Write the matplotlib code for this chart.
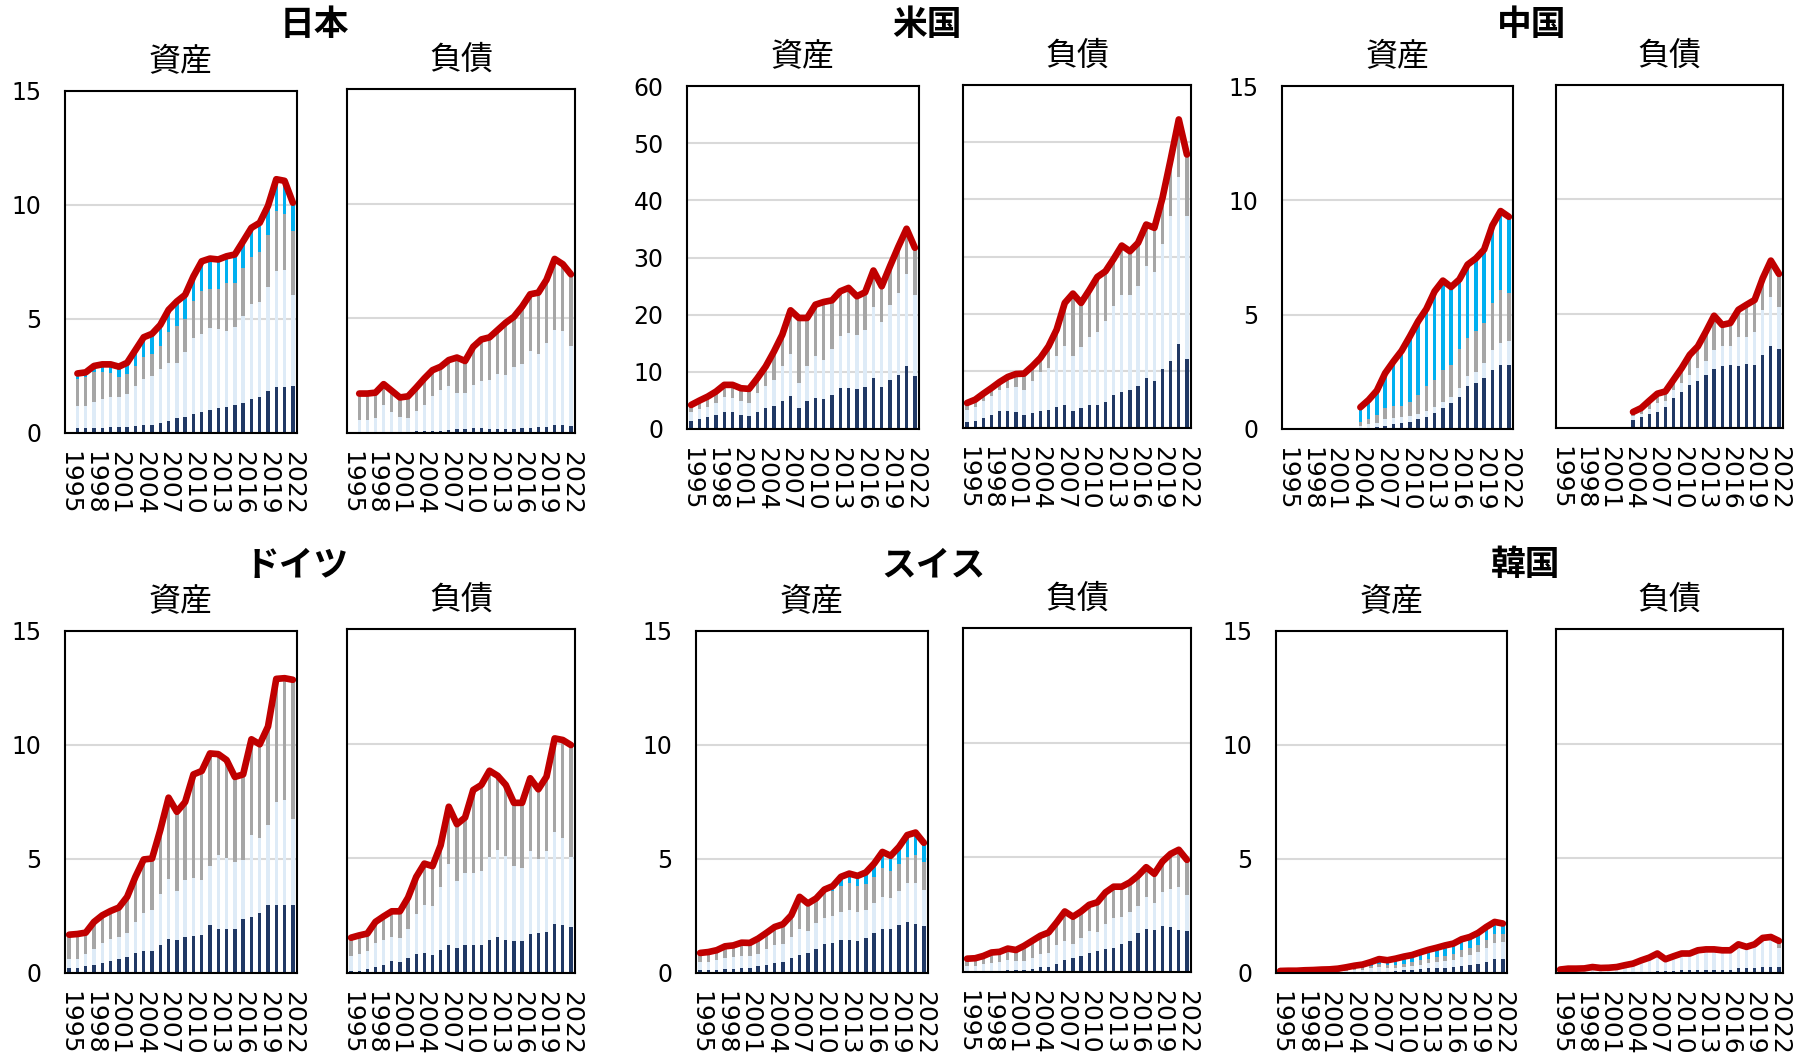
import numpy as np
import matplotlib
matplotlib.use("Agg")
import matplotlib.pyplot as plt

plt.rcParams["font.family"] = ["DejaVu Sans", "Noto Sans CJK JP"]

# ---------------------------------------------------------------- data
years = list(range(1995, 2023))
tick_years = years[::3]

countries = ["日本", "米国", "中国", "ドイツ", "スイス", "韓国"]
side_labels = ["資産", "負債"]
y_limits = {"日本": 15, "米国": 60, "中国": 15, "ドイツ": 15, "スイス": 15, "韓国": 15}
y_steps = {"日本": 5, "米国": 10, "中国": 5, "ドイツ": 5, "スイス": 5, "韓国": 5}

# Japan (from 1996)
jp_a_direct = [0.22, 0.23, 0.23, 0.21, 0.25, 0.26, 0.25, 0.29, 0.34, 0.34, 0.44, 0.53, 0.66, 0.70, 0.82, 0.93, 1.03, 1.10, 1.15, 1.22, 1.32, 1.51, 1.59, 1.84, 2.00, 2.03, 2.06]
jp_a_portfolio = [0.97, 0.96, 1.14, 1.30, 1.34, 1.33, 1.44, 1.77, 2.02, 2.16, 2.35, 2.52, 2.39, 2.87, 3.34, 3.42, 3.57, 3.45, 3.34, 3.45, 3.82, 4.15, 4.14, 4.56, 5.09, 5.11, 4.00]
jp_a_other = [1.20, 1.25, 1.32, 1.18, 1.02, 0.88, 0.90, 0.88, 0.99, 0.95, 1.03, 1.36, 1.65, 1.42, 1.65, 1.86, 1.73, 1.76, 2.09, 1.91, 2.08, 2.07, 2.20, 2.28, 2.65, 2.45, 2.79]
jp_a_reserves = [0.22, 0.22, 0.25, 0.32, 0.40, 0.44, 0.49, 0.70, 0.85, 0.90, 0.92, 0.99, 1.07, 1.07, 1.06, 1.32, 1.32, 1.30, 1.17, 1.25, 1.19, 1.27, 1.29, 1.28, 1.39, 1.47, 1.25]
jp_l_direct = [0.03, 0.03, 0.03, 0.03, 0.03, 0.03, 0.06, 0.07, 0.09, 0.09, 0.10, 0.15, 0.17, 0.17, 0.20, 0.20, 0.19, 0.17, 0.17, 0.19, 0.20, 0.23, 0.25, 0.28, 0.35, 0.34, 0.31]
jp_l_portfolio = [0.55, 0.55, 0.64, 1.18, 0.89, 0.67, 0.61, 0.88, 1.15, 1.53, 1.77, 1.91, 1.58, 1.58, 1.89, 2.07, 2.11, 2.40, 2.38, 2.67, 2.81, 3.36, 3.19, 3.66, 4.14, 4.12, 3.49]
jp_l_other = [1.14, 1.14, 1.09, 0.92, 0.92, 0.85, 0.93, 1.03, 1.14, 1.12, 1.02, 1.12, 1.54, 1.39, 1.67, 1.81, 1.87, 1.92, 2.26, 2.21, 2.50, 2.46, 2.68, 2.74, 3.10, 2.90, 3.12]

# United States
us_a_direct = [1.46, 1.75, 2.05, 2.46, 3.04, 2.92, 2.46, 2.28, 3.04, 3.74, 4.04, 4.91, 5.79, 3.74, 4.91, 5.50, 5.26, 5.96, 7.13, 7.25, 7.02, 7.43, 8.89, 7.43, 8.60, 9.36, 10.94, 9.30]
us_a_portfolio = [1.58, 1.70, 1.87, 2.16, 2.63, 2.58, 2.45, 2.22, 3.22, 3.80, 4.56, 6.03, 7.37, 4.27, 6.14, 7.19, 6.85, 8.02, 9.07, 9.53, 9.47, 9.94, 12.46, 11.28, 13.15, 14.44, 16.25, 14.09]
us_a_other = [1.17, 1.52, 1.75, 1.93, 2.05, 2.22, 2.22, 2.52, 2.63, 3.40, 4.97, 5.55, 7.60, 11.41, 8.37, 9.06, 10.11, 8.53, 7.89, 7.90, 6.73, 6.55, 6.37, 6.26, 6.73, 8.07, 7.64, 8.11]
us_a_reserves = [0, 0, 0, 0, 0, 0, 0, 0, 0, 0, 0, 0, 0, 0, 0, 0, 0, 0, 0, 0, 0, 0, 0, 0, 0, 0, 0.2, 0.2]
us_l_direct = [1.05, 1.28, 1.75, 2.22, 2.92, 2.92, 2.74, 2.22, 2.63, 3.03, 3.21, 3.68, 4.08, 3.03, 3.50, 3.97, 4.08, 4.55, 5.72, 6.30, 6.71, 7.41, 8.75, 8.28, 10.33, 11.79, 14.76, 12.14]
us_l_portfolio = [2.04, 2.40, 2.92, 3.44, 3.79, 4.08, 4.38, 4.49, 5.65, 6.71, 7.29, 8.86, 10.33, 9.51, 10.62, 11.96, 12.72, 14.12, 15.69, 17.04, 16.63, 17.50, 19.55, 18.97, 21.93, 25.37, 29.11, 24.91]
us_l_other = [1.29, 1.28, 1.34, 1.34, 1.34, 1.93, 2.33, 2.80, 2.51, 2.51, 3.79, 4.67, 7.47, 10.97, 7.76, 8.16, 9.63, 8.75, 8.17, 8.57, 7.58, 7.47, 7.29, 7.76, 8.00, 9.81, 10.10, 10.79]

# China (from 2004)
cn_a_direct = [0.03, 0.06, 0.07, 0.13, 0.20, 0.28, 0.32, 0.44, 0.54, 0.69, 0.94, 1.15, 1.42, 1.86, 2.00, 2.22, 2.59, 2.78, 2.78]
cn_a_portfolio = [0.10, 0.14, 0.21, 0.29, 0.27, 0.26, 0.25, 0.22, 0.25, 0.26, 0.26, 0.27, 0.36, 0.46, 0.51, 0.66, 0.87, 0.98, 1.05]
cn_a_other = [0.19, 0.22, 0.33, 0.49, 0.54, 0.47, 0.63, 0.83, 1.07, 1.20, 1.39, 1.39, 1.71, 1.66, 1.76, 1.75, 2.05, 2.34, 2.12]
cn_a_reserves = [0.63, 0.85, 1.07, 1.53, 1.94, 2.41, 2.85, 3.22, 3.39, 3.87, 3.90, 3.40, 3.05, 3.21, 3.19, 3.22, 3.39, 3.43, 3.33]
cn_l_direct = [0.36, 0.47, 0.61, 0.68, 0.90, 1.31, 1.56, 1.89, 2.07, 2.33, 2.59, 2.69, 2.74, 2.72, 2.81, 2.77, 3.20, 3.60, 3.46]
cn_l_portfolio = [0.15, 0.14, 0.22, 0.41, 0.29, 0.36, 0.41, 0.44, 0.55, 0.58, 0.83, 0.88, 0.86, 1.28, 1.19, 1.45, 1.97, 2.15, 1.81]
cn_l_other = [0.19, 0.26, 0.36, 0.41, 0.41, 0.44, 0.65, 0.87, 0.95, 1.31, 1.49, 0.94, 0.99, 1.17, 1.39, 1.38, 1.38, 1.57, 1.47]

# Germany
de_a_direct = [0.22, 0.23, 0.29, 0.37, 0.44, 0.53, 0.60, 0.70, 0.88, 0.95, 0.95, 1.22, 1.51, 1.43, 1.58, 1.61, 1.68, 2.09, 1.95, 1.92, 1.95, 2.36, 2.46, 2.61, 2.97, 2.97, 3.00, 3.00]
de_a_portfolio = [0.38, 0.40, 0.53, 0.70, 0.88, 0.98, 0.98, 1.07, 1.36, 1.69, 1.83, 2.26, 2.63, 2.16, 2.52, 2.56, 2.39, 2.60, 3.22, 3.13, 2.90, 2.59, 3.58, 3.29, 3.52, 4.54, 4.58, 3.75]
de_a_other = [1.08, 1.08, 0.95, 1.17, 1.21, 1.21, 1.29, 1.57, 1.98, 2.34, 2.24, 2.79, 3.55, 3.48, 3.40, 4.46, 4.79, 4.94, 4.43, 4.29, 3.75, 3.68, 4.13, 4.13, 4.32, 5.31, 5.25, 6.01]
de_a_reserves = [0, 0, 0, 0, 0, 0, 0, 0, 0, 0, 0, 0, 0, 0, 0, 0.08, 0, 0, 0, 0, 0, 0.08, 0.08, 0, 0, 0.08, 0.10, 0.10]
de_l_direct = [0.07, 0.07, 0.19, 0.26, 0.33, 0.51, 0.48, 0.66, 0.82, 0.87, 0.80, 1.02, 1.24, 1.11, 1.21, 1.21, 1.24, 1.43, 1.57, 1.46, 1.38, 1.38, 1.69, 1.75, 1.79, 2.15, 2.08, 2.01]
de_l_portfolio = [0.66, 0.75, 0.76, 1.05, 1.10, 1.06, 1.06, 1.28, 1.74, 2.08, 2.13, 2.71, 3.51, 2.91, 3.16, 3.16, 3.20, 3.61, 3.79, 3.63, 3.28, 3.21, 3.64, 3.20, 3.52, 4.01, 3.82, 3.03]
de_l_other = [0.81, 0.82, 0.77, 0.92, 1.04, 1.12, 1.15, 1.35, 1.63, 1.82, 1.73, 1.84, 2.50, 2.47, 2.41, 3.61, 3.76, 3.78, 3.24, 3.11, 2.76, 2.83, 3.16, 3.06, 3.25, 4.07, 4.26, 4.90]

# Switzerland
ch_a_direct = [0.12, 0.12, 0.12, 0.16, 0.19, 0.22, 0.23, 0.31, 0.37, 0.44, 0.48, 0.66, 0.81, 0.88, 1.04, 1.26, 1.33, 1.43, 1.43, 1.41, 1.54, 1.76, 1.92, 1.95, 2.12, 2.24, 2.17, 2.06]
ch_a_portfolio = [0.36, 0.36, 0.44, 0.50, 0.51, 0.51, 0.52, 0.54, 0.67, 0.78, 0.78, 0.92, 1.11, 0.95, 1.16, 1.17, 1.16, 1.25, 1.32, 1.25, 1.24, 1.29, 1.42, 1.34, 1.48, 1.71, 1.78, 1.60]
ch_a_other = [0.38, 0.42, 0.42, 0.49, 0.49, 0.58, 0.55, 0.64, 0.70, 0.78, 0.85, 0.92, 1.32, 1.19, 1.02, 1.11, 1.10, 1.12, 1.21, 1.15, 1.13, 1.18, 1.27, 1.17, 1.18, 1.15, 1.24, 1.23]
ch_a_reserves = [0.02, 0.02, 0.02, 0.02, 0.02, 0.02, 0.02, 0.02, 0.02, 0.02, 0.03, 0.03, 0.10, 0.03, 0.05, 0.12, 0.22, 0.42, 0.40, 0.45, 0.50, 0.57, 0.70, 0.68, 0.75, 0.95, 0.97, 0.82]
ch_l_direct = [0.03, 0.03, 0.04, 0.06, 0.06, 0.07, 0.07, 0.07, 0.12, 0.23, 0.22, 0.34, 0.51, 0.60, 0.70, 0.85, 0.92, 1.02, 1.04, 1.21, 1.36, 1.70, 1.87, 1.82, 2.01, 1.98, 1.82, 1.80]
ch_l_portfolio = [0.23, 0.23, 0.30, 0.35, 0.39, 0.44, 0.41, 0.41, 0.51, 0.57, 0.63, 0.83, 0.85, 0.64, 0.80, 0.92, 0.83, 1.07, 1.30, 1.20, 1.24, 1.16, 1.39, 1.18, 1.46, 1.64, 1.87, 1.56]
ch_l_other = [0.32, 0.34, 0.36, 0.44, 0.43, 0.51, 0.48, 0.66, 0.73, 0.78, 0.87, 0.99, 1.28, 1.17, 1.14, 1.16, 1.29, 1.38, 1.38, 1.31, 1.31, 1.34, 1.31, 1.28, 1.35, 1.53, 1.64, 1.53]

# Korea
kr_a_direct = [0.0, 0.0, 0.0, 0.0, 0.0, 0.01, 0.01, 0.01, 0.02, 0.02, 0.03, 0.04, 0.06, 0.06, 0.08, 0.12, 0.14, 0.17, 0.20, 0.22, 0.24, 0.26, 0.31, 0.36, 0.40, 0.48, 0.60, 0.60]
kr_a_portfolio = [0.01, 0.01, 0.01, 0.02, 0.02, 0.02, 0.03, 0.04, 0.06, 0.09, 0.12, 0.16, 0.20, 0.17, 0.15, 0.14, 0.17, 0.20, 0.22, 0.25, 0.28, 0.33, 0.40, 0.42, 0.50, 0.60, 0.72, 0.76]
kr_a_other = [0.01, 0.01, 0.01, 0.01, 0.02, 0.02, 0.02, 0.03, 0.04, 0.06, 0.07, 0.10, 0.14, 0.12, 0.14, 0.15, 0.16, 0.18, 0.20, 0.22, 0.24, 0.26, 0.30, 0.30, 0.32, 0.36, 0.40, 0.37]
kr_a_reserves = [0.07, 0.08, 0.08, 0.09, 0.09, 0.10, 0.10, 0.11, 0.13, 0.15, 0.15, 0.18, 0.21, 0.21, 0.26, 0.31, 0.32, 0.36, 0.40, 0.42, 0.45, 0.44, 0.47, 0.50, 0.54, 0.58, 0.52, 0.44]
kr_l_direct = [0.0, 0.0, 0.0, 0.0, 0.0, 0.0, 0.0, 0.0, 0.0, 0.02, 0.04, 0.06, 0.08, 0.08, 0.10, 0.11, 0.12, 0.13, 0.14, 0.14, 0.14, 0.15, 0.20, 0.20, 0.21, 0.24, 0.25, 0.25]
kr_l_portfolio = [0.13, 0.17, 0.17, 0.18, 0.24, 0.20, 0.21, 0.24, 0.32, 0.36, 0.48, 0.58, 0.74, 0.49, 0.60, 0.71, 0.70, 0.83, 0.86, 0.86, 0.82, 0.79, 1.00, 0.89, 0.99, 1.24, 1.27, 0.85]
kr_l_other = [0.02, 0.02, 0.02, 0.02, 0.02, 0.02, 0.02, 0.02, 0.02, 0.03, 0.03, 0.03, 0.03, 0.03, 0.03, 0.03, 0.03, 0.03, 0.03, 0.03, 0.03, 0.05, 0.05, 0.05, 0.05, 0.05, 0.05, 0.30]

# ---------------------------------------------------------------- style
c_direct = "#203864"
c_portfolio = "#DEEBF7"
c_other = "#A6A6A6"
c_reserves = "#00B0F0"
c_total = "#C00000"
c_grid = "#D9D9D9"

W, H = 1806, 1053
fig = plt.figure(figsize=(W / 100, H / 100), dpi=100)
fig.patch.set_facecolor("white")


def pad(vals):
    """Left-pad a series that starts after 1995 with missing values."""
    vals = list(vals)
    return np.array([np.nan] * (len(years) - len(vals)) + vals, dtype=float)


def px_axes(x0, y0, x1, y1):
    return fig.add_axes([x0 / W, 1 - y1 / H, (x1 - x0) / W, (y1 - y0) / H])


panels = {
    "日本": (
        [jp_a_direct, jp_a_portfolio, jp_a_other, jp_a_reserves],
        [jp_l_direct, jp_l_portfolio, jp_l_other],
    ),
    "米国": (
        [us_a_direct, us_a_portfolio, us_a_other, us_a_reserves],
        [us_l_direct, us_l_portfolio, us_l_other],
    ),
    "中国": (
        [cn_a_direct, cn_a_portfolio, cn_a_other, cn_a_reserves],
        [cn_l_direct, cn_l_portfolio, cn_l_other],
    ),
    "ドイツ": (
        [de_a_direct, de_a_portfolio, de_a_other, de_a_reserves],
        [de_l_direct, de_l_portfolio, de_l_other],
    ),
    "スイス": (
        [ch_a_direct, ch_a_portfolio, ch_a_other, ch_a_reserves],
        [ch_l_direct, ch_l_portfolio, ch_l_other],
    ),
    "韓国": (
        [kr_a_direct, kr_a_portfolio, kr_a_other, kr_a_reserves],
        [kr_l_direct, kr_l_portfolio, kr_l_other],
    ),
}

# pixel boxes (left, top, right, bottom) for the asset / liability axes
boxes = {
    "日本": [(65, 91, 297, 433), (347, 89, 575, 433)],
    "米国": [(687, 86, 919, 429), (963, 85, 1191, 428)],
    "中国": [(1282, 86, 1513, 429), (1556, 85, 1783, 428)],
    "ドイツ": [(65, 631, 297, 973), (347, 629, 575, 973)],
    "スイス": [(696, 631, 928, 973), (963, 628, 1191, 972)],
    "韓国": [(1276, 631, 1507, 973), (1556, 629, 1783, 973)],
}
title_pos = {
    "日本": (314, 25), "米国": (927, 24), "中国": (1532, 24),
    "ドイツ": (297, 565), "スイス": (933, 565), "韓国": (1526, 565),
}

colors = [c_direct, c_portfolio, c_other, c_reserves]
x = np.arange(len(years))
tick_idx = [years.index(y) for y in tick_years]

for country in countries:
    ymax, step = y_limits[country], y_steps[country]
    for k, (series, box) in enumerate(zip(panels[country], boxes[country])):
        ax = px_axes(*box)
        bottom = np.zeros(len(years))
        for vals, color in zip(series, colors):
            v = pad(vals)
            ax.bar(x, np.nan_to_num(v), 0.4, bottom=np.nan_to_num(bottom),
                   color=color, linewidth=0, zorder=2)
            bottom = bottom + v
        ax.plot(x, bottom, color=c_total, lw=4.8, solid_joinstyle="round",
                solid_capstyle="round", zorder=4)

        ax.set_xlim(-0.5, len(years) - 0.5)
        ax.set_ylim(0, ymax)
        ax.set_yticks(np.arange(0, ymax + 0.1, step))
        ax.set_xticks(tick_idx)
        ax.set_xticklabels([str(y) for y in tick_years], rotation=-90,
                           ha="center", va="top", fontsize=18)
        ax.tick_params(axis="both", length=0)
        ax.tick_params(axis="x", pad=13)
        ax.tick_params(axis="y", pad=17, labelsize=17, labelleft=(k == 0))
        ax.grid(axis="y", color=c_grid, lw=1.5, zorder=0)
        ax.set_axisbelow(True)
        for sp in ax.spines.values():
            sp.set_color("black")
            sp.set_linewidth(1.5)
            sp.set_zorder(5)

        cx = (box[0] + box[2]) / 2
        fig.text(cx / W, 1 - (box[1] - 29) / H, side_labels[k], ha="center",
                 va="center", fontsize=23, family=["Noto Sans CJK JP"])

    tx, ty = title_pos[country]
    fig.text(tx / W, 1 - ty / H, country, ha="center", va="center",
             fontsize=25, fontweight="bold", family=["Noto Sans CJK JP"])

fig.savefig("out.png", dpi=100, facecolor="white")
